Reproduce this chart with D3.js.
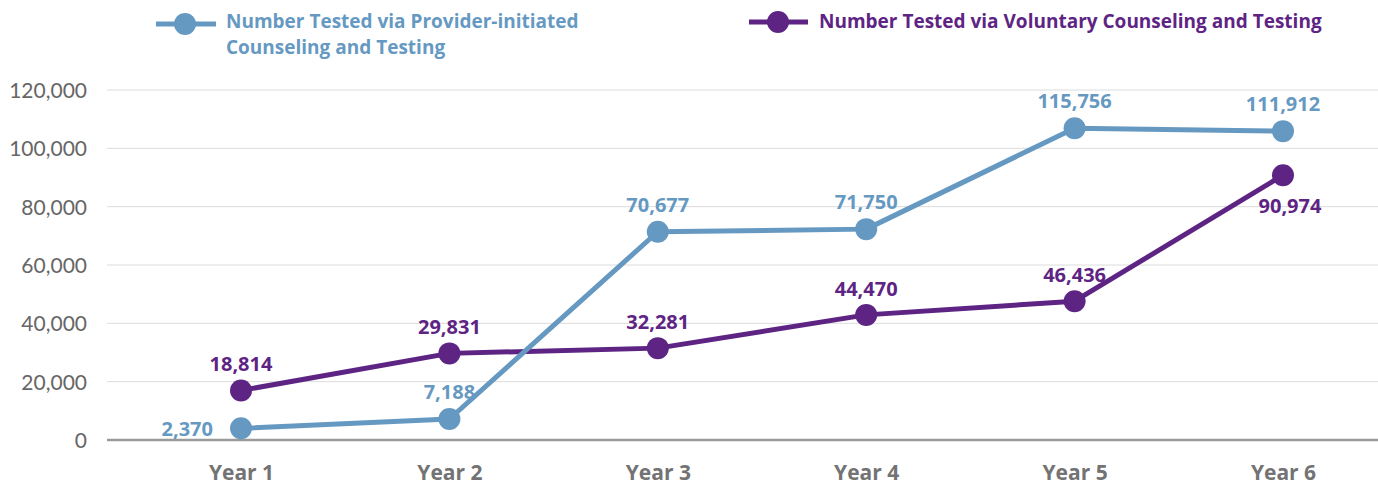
<!DOCTYPE html>
<html><head><meta charset="utf-8">
<script src="https://cdn.jsdelivr.net/npm/d3@7/dist/d3.min.js"></script>
<style>body{margin:0;background:#fff}svg{display:block}text{font-family:"Open Sans",Lato,sans-serif}</style>
</head><body>
<script>
const categories = ["Year 1","Year 2","Year 3","Year 4","Year 5","Year 6"];
const providerValues = [4000, 7200, 71400, 72300, 106900, 105900];
const voluntaryValues = [17000, 29700, 31500, 42900, 47600, 90800];
const providerLabels = ["2,370","7,188","70,677","71,750","115,756","111,912"];
const voluntaryLabels = ["18,814","29,831","32,281","44,470","46,436","90,974"];
const yTicks = [0, 20000, 40000, 60000, 80000, 100000, 120000];
const seriesNames = ["Number Tested via Provider-initiated|Counseling and Testing", "Number Tested via Voluntary Counseling and Testing"];

const W = 1378, H = 491;
const blue = "#6699C2", purple = "#5E2484";
const svg = d3.select("body").append("svg").attr("width", W).attr("height", H);
const x = d3.scalePoint().domain(categories).range([241, 1283]);
const y = d3.scaleLinear().domain([0, 120000]).range([440, 90]);

// gridlines
svg.append("g").selectAll("line").data(yTicks.filter(d => d > 0)).join("line")
  .attr("x1", 107).attr("x2", W).attr("y1", d => y(d)).attr("y2", d => y(d))
  .attr("stroke", "#dcdcdc").attr("stroke-width", 1);
// baseline
svg.append("line").attr("x1", 107).attr("x2", W).attr("y1", y(0)).attr("y2", y(0))
  .attr("stroke", "#9a9a9a").attr("stroke-width", 2.5);

// y axis
const yAxis = d3.axisLeft(y).tickValues(yTicks).tickFormat(d3.format(",")).tickSize(0).tickPadding(0);
const ya = svg.append("g").attr("transform", "translate(87,0)").call(yAxis);
ya.select(".domain").remove();
ya.selectAll("text").attr("fill", "#666").style("font-size", "21px").style("font-family", "Lato, 'Open Sans', sans-serif").attr("dy", "0.35em");

// x axis
const xAxis = d3.axisBottom(x).tickSize(0).tickPadding(0);
const xa = svg.append("g").attr("transform", "translate(0,465)").call(xAxis);
xa.select(".domain").remove();
xa.selectAll("text").attr("fill", "#737373").style("font-size", "21px").style("font-weight", "bold").style("font-family", "'Open Sans', Lato, sans-serif");

function drawSeries(vals, color) {
  const line = d3.line().x((d, i) => x(categories[i])).y(d => y(d));
  svg.append("path").datum(vals).attr("d", line).attr("fill", "none")
    .attr("stroke", color).attr("stroke-width", 5).attr("stroke-linejoin", "round");
  svg.append("g").selectAll("circle").data(vals).join("circle")
    .attr("cx", (d, i) => x(categories[i])).attr("cy", d => y(d)).attr("r", 11).attr("fill", color);
}
drawSeries(voluntaryValues, purple);
drawSeries(providerValues, blue);

function drawLabels(vals, labels, color, pos) {
  svg.append("g").selectAll("text").data(vals).join("text")
    .attr("x", (d, i) => x(categories[i]) + pos(i).dx)
    .attr("y", (d, i) => y(d) + pos(i).dy)
    .attr("text-anchor", (d, i) => pos(i).anchor)
    .attr("fill", color).style("font-size", "20px").style("font-weight", "bold")
    .text((d, i) => labels[i]);
}
drawLabels(providerValues, providerLabels, blue, i => i === 0 ? {dx: -28, dy: 8, anchor: "end"} : {dx: 0, dy: -20, anchor: "middle"});
drawLabels(voluntaryValues, voluntaryLabels, purple, i => i === 5 ? {dx: 7, dy: 38, anchor: "middle"} : {dx: 0, dy: -19, anchor: "middle"});

// legend
const legend = [
  {name: seriesNames[0], color: blue, x1: 156, x2: 216, cx: 185, cy: 24, tx: 226, ty: 28},
  {name: seriesNames[1], color: purple, x1: 749, x2: 808, cx: 778, cy: 22, tx: 819, ty: 28}
];
legend.forEach(l => {
  svg.append("line").attr("x1", l.x1).attr("x2", l.x2).attr("y1", l.cy).attr("y2", l.cy)
    .attr("stroke", l.color).attr("stroke-width", 5);
  svg.append("circle").attr("cx", l.cx).attr("cy", l.cy).attr("r", 11).attr("fill", l.color);
  l.name.split("|").forEach((s, k) => svg.append("text")
    .attr("x", l.tx).attr("y", l.ty + k * 26).attr("fill", l.color)
    .style("font-size", "19px").style("font-weight", "bold").text(s));
});
</script>
</body></html>
